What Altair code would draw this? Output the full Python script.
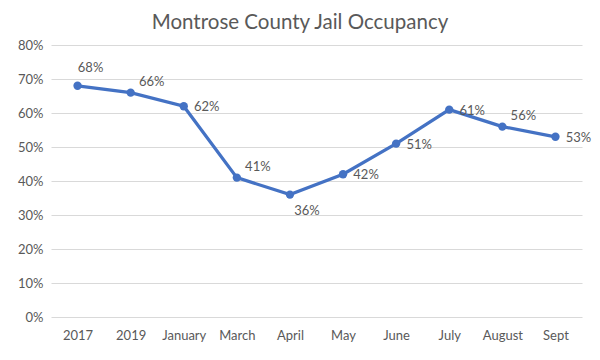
import altair as alt
import pandas as pd

title_text = "Montrose County Jail Occupancy"
categories = ["2017", "2019", "January", "March", "April", "May", "June", "July", "August", "Sept"]
occupancy = [0.68, 0.66, 0.62, 0.41, 0.36, 0.42, 0.51, 0.61, 0.56, 0.53]
labels = ["68%", "66%", "62%", "41%", "36%", "42%", "51%", "61%", "56%", "53%"]
above_labels = ["2017"]
upright_labels = ["2019", "March", "August"]
below_labels = ["April"]
right_labels = ["January", "May", "June", "July", "Sept"]

df = pd.DataFrame({"cat": categories, "val": occupancy, "lab": labels})

FONT = "Lato"
GREY = "#595959"
BLUE = "#4472C4"

x = alt.X("cat:N", sort=categories, title=None,
          scale=alt.Scale(paddingInner=0, paddingOuter=0),
          axis=alt.Axis(labelAngle=0, ticks=False, domain=False, labelPadding=12,
                        labelFontSize=13, labelColor=GREY, labelFont=FONT, grid=False))
y = alt.Y("val:Q", title=None,
          scale=alt.Scale(domain=[0, 0.8], nice=False),
          axis=alt.Axis(format=".0%", values=[0, 0.1, 0.2, 0.3, 0.4, 0.5, 0.6, 0.7, 0.8],
                        ticks=False, domain=False, labelPadding=8, labelFontSize=13,
                        labelColor=GREY, labelFont=FONT, gridColor="#d9d9d9", gridWidth=1))

base = alt.Chart(df)
line = base.mark_line(color=BLUE, strokeWidth=3.25).encode(x=x, y=y)
pts = base.mark_point(color=BLUE, filled=True, opacity=1, size=70).encode(x=x, y=y)

def lbl(names, dx, dy):
    return base.transform_filter(
        alt.FieldOneOfPredicate(field="cat", oneOf=names)
    ).mark_text(font=FONT, fontSize=13, color=GREY, dx=dx, dy=dy).encode(
        x=x, y=y, text="lab:N")

title = alt.Chart(pd.DataFrame({"t": [title_text]})).mark_text(
    font=FONT, fontSize=20.5, color=GREY, baseline="middle", align="center"
).encode(x=alt.value(249), y=alt.value(-22), text="t:N")

chart = alt.layer(
    line, pts,
    lbl(above_labels, 13, -18),
    lbl(upright_labels, 21, -11),
    lbl(below_labels, 17, 16),
    lbl(right_labels, 23, 1),
    title,
).properties(
    width=531, height=272,
    autosize=alt.AutoSizeParams(type="none"),
    padding={"left": 43, "top": 37, "right": 10, "bottom": 35},
).configure_view(stroke=None)

chart.save("out.html", embed_options={"renderer": "svg", "actions": False})
